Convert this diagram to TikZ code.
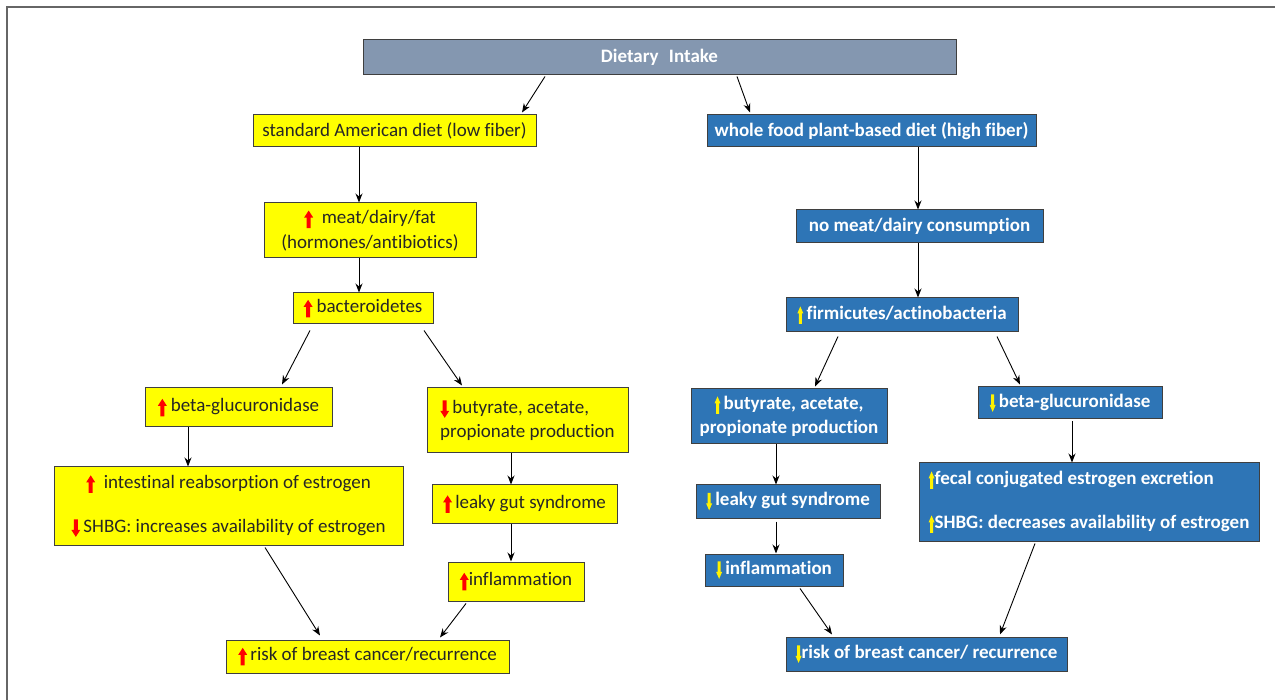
\documentclass[tikz,border=0pt]{standalone}
\usepackage{fontspec}
\setmainfont{Carlito}[Ligatures=CommonOff]
\usetikzlibrary{arrows.meta}
\definecolor{sadyellow}{HTML}{FFFF00}
\definecolor{plantblue}{HTML}{2E75B6}
\definecolor{intakegray}{HTML}{8497B0}
\definecolor{boxline}{HTML}{3F3F3F}
% kleine Pfeile im Text
\newcommand\auf[3]{\tikz[baseline=0pt]\fill[#1] (-#3,-4.5pt) -- (-#3,6pt) -- (-#2,6pt) -- (0pt,13pt) -- (#2,6pt) -- (#3,6pt) -- (#3,-4.5pt) -- cycle;}
\newcommand\ab[3]{\tikz[baseline=0pt]\fill[#1] (-#3,13pt) -- (-#3,2.5pt) -- (-#2,2.5pt) -- (0pt,-4.5pt) -- (#2,2.5pt) -- (#3,2.5pt) -- (#3,13pt) -- cycle;}
\newcommand\rup{\auf{red}{4.5pt}{2pt}}
\newcommand\rdown{\ab{red}{4.5pt}{2pt}}
\newcommand\yup{\auf{yellow}{3pt}{1.5pt}}
\newcommand\ydown{\ab{yellow}{3pt}{1.5pt}}
\tikzset{
  box/.style={draw=boxline, line width=1pt, inner sep=0pt, font=\fontsize{19}{24.5}\selectfont},
  lowfiber/.style={box, fill=sadyellow, text=black!85},
  highfiber/.style={box, fill=plantblue, text=white, font=\fontsize{19}{24.5}\selectfont\bfseries},
  pfeil/.style={-{Stealth[length=9pt,width=7pt]}, line width=0.9pt},
}
\begin{document}
\begin{tikzpicture}[x=1pt,y=-1pt]
	\useasboundingbox (0,0) rectangle (1275,700);
	\draw[line width=2pt, black!60] (7,700) -- (7,7) -- (1275,7);%Rahmen

	\node[box, fill=intakegray, text=white, font=\fontsize{19}{22}\selectfont\bfseries, minimum width=593, minimum height=35] (intake) at (659.5,57.5) {Dietary\hspace{6pt} Intake};

	% low fiber side
	\node[lowfiber, minimum width=283, minimum height=32] (sad) at (394.5,131) {standard American diet (low fiber)};
	\node[lowfiber, align=center, minimum width=212, minimum height=55] (meat) at (370,230.5) {\rup\ \ meat/dairy/fat\\(hormones/antibiotics)};
	\node[lowfiber, minimum width=140, minimum height=31] (bact) at (363,308.5) {\rup\hspace{4pt}bacteroidetes};
	\node[lowfiber, minimum width=187, minimum height=39] (betaL) at (238.5,407.5) {\rup\hspace{4pt}beta-glucuronidase};
	\node[lowfiber, align=left, minimum width=201, minimum height=65] (butL) at (527.5,420.5) {\rdown\,butyrate, acetate,\\propionate production};
	\node[lowfiber, align=center, minimum width=349, minimum height=78] (intest) at (228.5,506) {\rup\ \ intestinal reabsorption of estrogen\\[19.5pt]\rdown\,SHBG: increases availability of estrogen};
	\node[lowfiber, minimum width=185, minimum height=38] (leakL) at (524.5,504) {\rup\,leaky gut syndrome};
	\node[lowfiber, minimum width=136, minimum height=39] (inflL) at (516,581.5) {\rup inflammation};
	\node[lowfiber, minimum width=283, minimum height=33] (riskL) at (367.5,656.5) {\rup\,risk of breast cancer/recurrence};

	% high fiber side
	\node[highfiber, minimum width=329, minimum height=32] (wfpb) at (871.5,131) {whole food plant-based diet (high fiber)};
	\node[highfiber, minimum width=247, minimum height=33] (nomeat) at (919.5,226.5) {no meat/dairy consumption};
	\node[highfiber, minimum width=232, minimum height=34] (firm) at (902,315) {\yup\,firmicutes/actinobacteria};
	\node[highfiber, align=center, minimum width=196, minimum height=55] (butR) at (789,416.5) {\yup\,butyrate, acetate,\\propionate production};
	\node[highfiber, minimum width=184, minimum height=32] (betaR) at (1070,403) {\ydown\,beta-glucuronidase};
	\node[highfiber, minimum width=184, minimum height=33] (leakR) at (788,501.5) {\ydown\,leaky gut syndrome};
	\node[highfiber, minimum width=138, minimum height=32] (inflR) at (774,570) {\ydown\,inflammation};
	\node[highfiber, align=left, minimum width=340, minimum height=78] (fecal) at (1089,502) {\yup fecal conjugated estrogen excretion\\[19.5pt]\yup SHBG: decreases availability of estrogen};
	\node[highfiber, minimum width=281, minimum height=34] (riskR) at (926.5,654) {\ydown risk of breast cancer/ recurrence};

	\draw[pfeil] ([xshift=-114.5pt,yshift=-1pt]intake.south) -- ([xshift=127.5pt,yshift=2pt]sad.north);
	\draw[pfeil] ([xshift=77.5pt,yshift=-1pt]intake.south) -- ([xshift=-121.5pt,yshift=2pt]wfpb.north);

	\draw[pfeil] (sad.south -| 359,0) -- (meat.north -| 359,0);
	\draw[pfeil] (meat.south -| 359,0) -- (bact.north -| 359,0);
	\draw[pfeil] ([xshift=-53pt,yshift=-6pt]bact.south) -- ([xshift=43.5pt,yshift=3pt]betaL.north);
	\draw[pfeil] ([xshift=61pt,yshift=-6pt]bact.south) -- ([xshift=-65.5pt,yshift=2pt]butL.north);
	\draw[pfeil] (betaL.south -| 188,0) -- (intest.north -| 188,0);
	\draw[pfeil] (butL.south -| 511,0) -- (leakL.north -| 511,0);
	\draw[pfeil] (leakL.south -| 511,0) -- (inflL.north -| 511,0);
	\draw[pfeil] ([xshift=36.5pt,yshift=-2pt]intest.south) -- ([xshift=-47.5pt,yshift=4pt]riskL.north);
	\draw[pfeil] ([xshift=-50pt,yshift=-2pt]inflL.south) -- ([xshift=72.5pt,yshift=2pt]riskL.north);

	\draw[pfeil] (wfpb.south -| 918,0) -- (nomeat.north -| 918,0);
	\draw[pfeil] (nomeat.south -| 918,0) -- (firm.north -| 918,0);
	\draw[pfeil] ([xshift=-64pt,yshift=-4pt]firm.south) -- ([xshift=26pt,yshift=2pt]butR.north);
	\draw[pfeil] ([xshift=95pt,yshift=-4pt]firm.south) -- ([xshift=-50pt,yshift=2pt]betaR.north);
	\draw[pfeil] (butR.south -| 776,0) -- (leakR.north -| 776,0);
	\draw[pfeil] ([yshift=-3pt]leakR.south -| 776,0) -- (inflR.north -| 776,0);
	\draw[pfeil] ([yshift=-2pt]betaR.south -| 1072,0) -- (fecal.north -| 1072,0);
	\draw[pfeil] ([xshift=26pt,yshift=-2pt]inflR.south) -- ([xshift=-94.5pt,yshift=2pt]riskR.north);
	\draw[pfeil] ([xshift=-54pt,yshift=-2pt]fecal.south) -- ([xshift=73.5pt,yshift=2pt]riskR.north);
\end{tikzpicture}
\end{document}
